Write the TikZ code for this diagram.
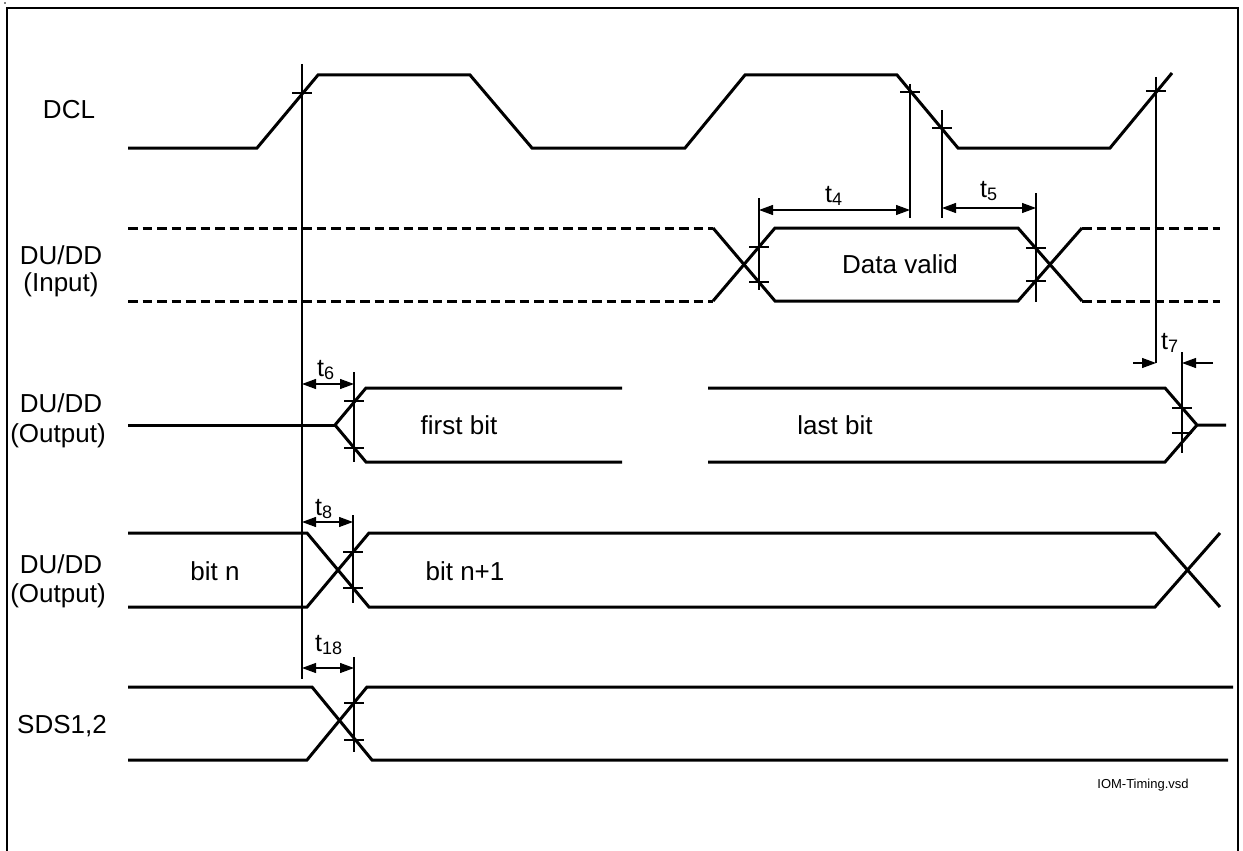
\documentclass[tikz,border=0pt]{standalone}
\usepackage{fontspec}
\setmainfont{Liberation Sans}
\usetikzlibrary{arrows.meta}
\newcommand{\tlab}[1]{t\raisebox{-3.5pt}{\fontsize{18}{18}\selectfont #1}}
\tikzset{
  sig/.style={line width=3pt, line join=miter},
  dsig/.style={line width=3pt, dash pattern=on 9.5pt off 5pt},
  guide/.style={line width=1.3pt},
  dimarrow/.style={line width=1.1pt, {Triangle[length=14pt,width=10pt]}-{Triangle[length=14pt,width=10pt]}},
  onearrow/.style={line width=1.1pt, -{Triangle[length=14pt,width=10pt]}},
  lab/.style={inner sep=0pt, anchor=base, font=\fontsize{26}{31}\selectfont},
  tl/.style={inner sep=0pt, anchor=base west, font=\fontsize{25}{30}\selectfont},
}
\newcommand{\tick}[2]{\draw[guide] (#1-10,#2) -- (#1+10,#2);}
\begin{document}
\begin{tikzpicture}[x=1pt,y=-1pt]
\useasboundingbox (0,0) rectangle (1243,851);
% frame
\draw[line width=2.4pt] (7,852) -- (7,8) -- (1238,8) -- (1238,852);
\fill (5,3) circle (0.8pt);

% labels
\node[lab] (dcl) at (69,118) {DCL};
\node[lab] (in1) at (61,264) {DU/DD};
\node[lab] (in2) at (61,291) {(Input)};
\node[lab] (oa1) at (61,412) {DU/DD};
\node[lab] (oa2) at (58,442) {(Output)};
\node[lab] (ob1) at (61,573) {DU/DD};
\node[lab] (ob2) at (58,602) {(Output)};
\node[lab] (sds) at (62,733) {SDS1,2};

% DCL
\draw[sig] (128,148) -- (257,148) -- (318,75) -- (470,75) -- (532,148) -- (685,148)
  -- (745,75) -- (897,75) -- (958,148) -- (1110,148) -- (1172,73);

% DU/DD input
\draw[dsig] (128,228) -- (713,228);
\draw[dsig] (128,301) -- (713,301);
\draw[dsig] (1082,228) -- (1220,228);
\draw[dsig] (1082,301) -- (1220,301);
\draw[sig] (713,228) -- (775,301) -- (1018,301) -- (1082,228);
\draw[sig] (713,301) -- (775,228) -- (1018,228) -- (1082,301);
\node[lab] (dv) at (900,273) {Data valid};

% DU/DD output 1
\draw[sig] (128,425) -- (335,425);
\draw[sig] (622,388) -- (366,388) -- (335,425) -- (366,462) -- (622,462);
\draw[sig] (708,388) -- (1165,388) -- (1197,425) -- (1226,425);
\draw[sig] (708,462) -- (1165,462) -- (1197,425);
\node[lab] (fb) at (459,434) {first bit};
\node[lab] (lb) at (835,434) {last bit};

% DU/DD output 2
\draw[sig] (128,533) -- (307,533) -- (369,607) -- (1155,607) -- (1220,533);
\draw[sig] (128,607) -- (307,607) -- (369,533) -- (1155,533) -- (1220,607);
\node[lab] (bn) at (215,580) {bit n};
\node[lab] (bn1) at (465,580) {bit n+1};

% SDS
\draw[sig] (128,687) -- (312,687) -- (372,760) -- (1228,760);
\draw[sig] (128,760) -- (307,760) -- (367,687) -- (1233,687);

% guide lines
\draw[guide] (302,64) -- (302,679);
\draw[guide] (354,372) -- (354,462);
\draw[guide] (353,515) -- (353,603);
\draw[guide] (354,657) -- (354,752);
\draw[guide] (759,198) -- (759,290);
\draw[guide] (910,84) -- (910,218);
\draw[guide] (942,110) -- (942,218);
\draw[guide] (1036,193) -- (1036,302);
\draw[guide] (1156,77) -- (1156,363);
\draw[guide] (1182,352) -- (1182,453);

% ticks
\tick{302}{93}
\tick{910}{92}
\tick{942}{128}
\tick{1156}{91}
\tick{759}{247}
\tick{759}{282}
\tick{1036}{248}
\tick{1036}{281}
\tick{354}{401}
\tick{354}{448}
\tick{1182}{408}
\tick{1182}{433}
\tick{353}{552}
\tick{353}{588}
\tick{354}{703}
\tick{354}{740}

% dimension arrows
\draw[dimarrow] (302,384) -- (354,384);
\draw[dimarrow] (302,522) -- (353,522);
\draw[dimarrow] (302,668) -- (354,668);
\draw[dimarrow] (759,210) -- (910,210);
\draw[dimarrow] (942,208) -- (1036,208);
\draw[onearrow] (1133,363) -- (1156,363);
\draw[onearrow] (1213,363) -- (1182,363);

\node[tl] (t4) at (825,202) {\tlab{4}};
\node[tl] (t5) at (980,197) {\tlab{5}};
\node[tl] (t6) at (317,376) {\tlab{6}};
\node[tl] (t8) at (315,515) {\tlab{8}};
\node[tl] (t18) at (315,651) {\tlab{18}};
\node[tl] (t7) at (1161,349) {\tlab{7}};

\node[inner sep=0pt, anchor=base, font=\fontsize{13}{15}\selectfont] (file) at (1143,788) {IOM-Timing.vsd};
\end{tikzpicture}
\end{document}
